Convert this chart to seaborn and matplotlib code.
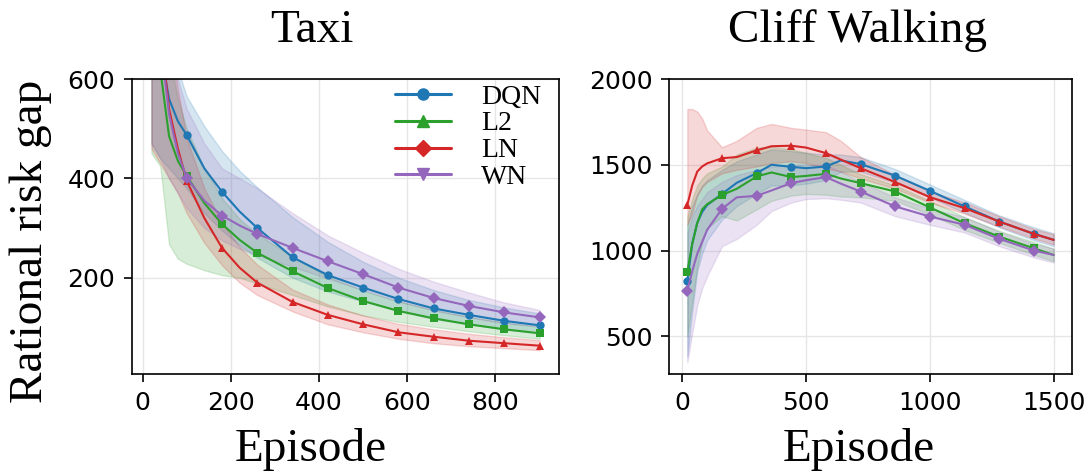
import numpy as np
import matplotlib
matplotlib.use("Agg")
import matplotlib.pyplot as plt
from matplotlib.lines import Line2D
import seaborn as sns

# ---------------- Taxi data ----------------
taxi_ep = [20, 40, 60, 80, 100, 140, 180, 220, 260, 340, 420, 500, 580, 660, 740, 820, 900]
taxi_marks = [100, 180, 260, 340, 420, 500, 580, 660, 740, 820, 900]

taxi_dqn = [900, 660, 560, 515, 487, 420, 373, 333, 300, 241, 205, 180, 157, 138, 125, 113, 104]
taxi_dqn_hi = [1000, 850, 700, 620, 565, 505, 455, 415, 382, 322, 272, 232, 200, 175, 155, 140, 128]
taxi_dqn_lo = [470, 440, 420, 400, 380, 330, 295, 265, 240, 200, 172, 152, 133, 117, 106, 96, 88]

taxi_l2 = [900, 620, 485, 435, 405, 350, 308, 276, 250, 213, 179, 153, 133, 118, 106, 96, 88]
taxi_l2_hi = [1000, 800, 650, 560, 500, 420, 360, 318, 288, 242, 202, 174, 152, 135, 121, 110, 101]
taxi_l2_lo = [450, 425, 267, 238, 228, 215, 205, 200, 188, 165, 142, 124, 111, 101, 92, 84, 77]

taxi_ln = [950, 700, 540, 460, 395, 320, 260, 220, 190, 151, 125, 106, 90, 81, 73, 68, 63]
taxi_ln_hi = [1000, 850, 700, 580, 480, 380, 310, 262, 226, 176, 146, 124, 107, 96, 87, 80, 74]
taxi_ln_lo = [460, 430, 400, 370, 330, 270, 225, 190, 165, 132, 106, 90, 77, 68, 62, 58, 54]

taxi_wn = [950, 680, 530, 450, 401, 355, 325, 305, 288, 260, 233, 207, 180, 159, 143, 130, 120]
taxi_wn_hi = [1000, 850, 700, 600, 540, 470, 420, 400, 380, 330, 285, 250, 218, 192, 170, 150, 135]
taxi_wn_lo = [470, 440, 400, 370, 340, 300, 275, 258, 245, 222, 198, 175, 152, 134, 120, 108, 102]

# ---------------- Cliff Walking data ----------------
cliff_ep = [20, 40, 60, 80, 100, 160, 220, 300, 360, 440, 500, 580, 640, 720, 860, 1000, 1140, 1280, 1420, 1500]
cliff_marks = [20, 160, 300, 440, 580, 720, 860, 1000, 1140, 1280, 1420]

cliff_dqn = [825, 1040, 1160, 1225, 1265, 1330, 1395, 1451, 1500, 1488, 1480, 1490, 1525, 1504, 1436, 1348, 1257, 1169, 1097, 1062]
cliff_dqn_hi = [1150, 1260, 1330, 1380, 1410, 1470, 1520, 1560, 1590, 1580, 1570, 1560, 1560, 1545, 1475, 1385, 1295, 1205, 1135, 1100]
cliff_dqn_lo = [380, 650, 880, 980, 1060, 1180, 1260, 1330, 1380, 1380, 1390, 1410, 1460, 1460, 1395, 1310, 1220, 1135, 1060, 1025]

cliff_l2 = [877, 1040, 1160, 1240, 1270, 1324, 1360, 1432, 1455, 1428, 1435, 1447, 1420, 1393, 1344, 1251, 1159, 1081, 1013, 974]
cliff_l2_hi = [1200, 1300, 1380, 1420, 1450, 1490, 1560, 1600, 1605, 1590, 1570, 1540, 1500, 1445, 1380, 1290, 1195, 1115, 1050, 1010]
cliff_l2_lo = [500, 700, 900, 1050, 1130, 1200, 1175, 1240, 1290, 1320, 1330, 1325, 1315, 1310, 1290, 1210, 1120, 1045, 975, 938]

cliff_ln = [1266, 1380, 1460, 1490, 1508, 1538, 1545, 1584, 1608, 1611, 1600, 1568, 1530, 1480, 1399, 1311, 1247, 1169, 1097, 1062]
cliff_ln_hi = [1825, 1825, 1810, 1770, 1700, 1602, 1640, 1715, 1738, 1715, 1705, 1690, 1640, 1545, 1440, 1345, 1280, 1200, 1125, 1095]
cliff_ln_lo = [1150, 1220, 1320, 1370, 1400, 1450, 1470, 1490, 1510, 1520, 1510, 1480, 1460, 1420, 1360, 1280, 1215, 1140, 1070, 1035]

cliff_wn = [766, 880, 980, 1050, 1120, 1243, 1310, 1319, 1350, 1393, 1410, 1428, 1390, 1344, 1257, 1198, 1150, 1068, 1000, 974]
cliff_wn_hi = [1100, 1200, 1260, 1300, 1340, 1400, 1440, 1470, 1490, 1500, 1500, 1500, 1460, 1400, 1310, 1245, 1195, 1110, 1040, 1012]
cliff_wn_lo = [348, 520, 680, 780, 850, 1025, 1068, 1150, 1230, 1280, 1300, 1305, 1296, 1280, 1200, 1150, 1105, 1025, 960, 930]

methods = ["DQN", "L2", "LN", "WN"]
colors = ["#1f77b4", "#2ca02c", "#d62728", "#9467bd"]
plot_markers = ["o", "s", "^", "D"]     # markers on the curves
legend_markers = ["o", "^", "D", "v"]   # markers shown in the legend

sns.set_style("ticks")
plt.rcParams["font.family"] = "DejaVu Sans"
for k in ["text.color", "axes.labelcolor", "xtick.color", "ytick.color", "axes.edgecolor"]:
    plt.rcParams[k] = "black"
serif = "Liberation Serif"

fig = plt.figure(figsize=(10.9, 4.73), dpi=100)
W, H = 1090, 473
ax1 = fig.add_axes([132 / W, 1 - 374 / H, 427 / W, 295 / H])
ax2 = fig.add_axes([669 / W, 1 - 374 / H, 403 / W, 295 / H])

taxi = [(taxi_dqn, taxi_dqn_lo, taxi_dqn_hi), (taxi_l2, taxi_l2_lo, taxi_l2_hi),
        (taxi_ln, taxi_ln_lo, taxi_ln_hi), (taxi_wn, taxi_wn_lo, taxi_wn_hi)]
cliff = [(cliff_dqn, cliff_dqn_lo, cliff_dqn_hi), (cliff_l2, cliff_l2_lo, cliff_l2_hi),
         (cliff_ln, cliff_ln_lo, cliff_ln_hi), (cliff_wn, cliff_wn_lo, cliff_wn_hi)]


def draw(ax, ep, marks, series):
    ep = np.array(ep)
    idx = list(np.where(np.isin(ep, marks))[0])
    for (mean, lo, hi), c, m in zip(series, colors, plot_markers):
        ax.fill_between(ep, lo, hi, color=c, alpha=0.18, lw=1, edgecolor=c)
        sns.lineplot(x=ep, y=mean, ax=ax, color=c, lw=1.5, marker=m, markersize=6,
                     markeredgewidth=0, markevery=idx, sort=False, estimator=None)
    ax.grid(True, color="#e6e6e6", lw=1)
    for s in ax.spines.values():
        s.set_visible(True)
        s.set_color("black")
        s.set_linewidth(1.2)
    ax.tick_params(labelsize=18, length=6, width=1.2, pad=6, direction="out", colors="black")


draw(ax1, taxi_ep, taxi_marks, taxi)
ax1.set_xlim(-24, 944)
ax1.set_ylim(6, 600)
ax1.set_xticks([0, 200, 400, 600, 800])
ax1.set_yticks([200, 400, 600])

draw(ax2, cliff_ep, cliff_marks, cliff)
ax2.set_xlim(-54, 1574)
ax2.set_ylim(280, 2000)
ax2.set_xticks([0, 500, 1000, 1500])
ax2.set_yticks([500, 1000, 1500, 2000])

handles = [Line2D([], [], color=c, marker=m, lw=2.2, markersize=8)
           for c, m in zip(colors, legend_markers)]
ax1.legend(handles, methods, loc="upper right", bbox_to_anchor=(0.985, 1.02), frameon=False,
           prop={"family": serif, "size": 20}, labelspacing=0.05, handlelength=2.0,
           handletextpad=1.1, borderaxespad=0.0)

fig.text(312 / W, 1 - 42 / H, "Taxi", family=serif, fontsize=34, ha="center", va="baseline")
fig.text(858 / W, 1 - 42 / H, "Cliff Walking", family=serif, fontsize=34, ha="center", va="baseline")
fig.text(311 / W, 1 - 461 / H, "Episode", family=serif, fontsize=34, ha="center", va="baseline")
fig.text(859 / W, 1 - 461 / H, "Episode", family=serif, fontsize=34, ha="center", va="baseline")
fig.text(42 / W, 1 - 241 / H, "Rational risk gap", family=serif, fontsize=34, rotation=90,
         rotation_mode="anchor", ha="center", va="baseline")

fig.savefig("out.png", dpi=100)
